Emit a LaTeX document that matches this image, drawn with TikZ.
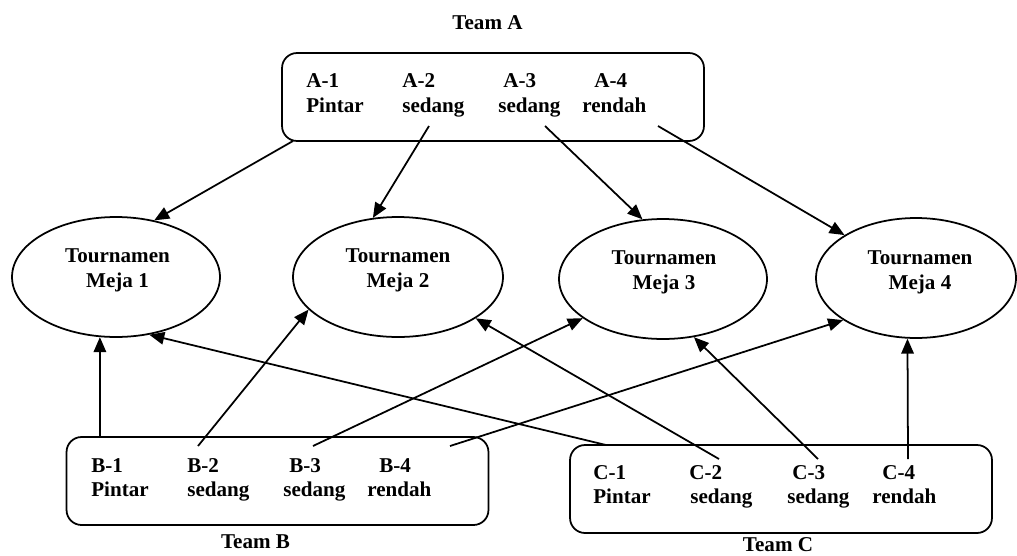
\documentclass[tikz,border=0pt]{standalone}
\usepackage{fontspec}
\setmainfont{Liberation Serif}
\usetikzlibrary{shapes.geometric,arrows.meta}

\tikzset{
  teambox/.style={draw, line width=1pt, rounded corners=0.3cm, minimum width=8.44cm, minimum height=1.76cm, inner sep=0},
  meja/.style={draw, ellipse, line width=1pt, inner sep=0, minimum height=2.4cm},
  txt/.style={font=\fontsize{12}{14}\selectfont\bfseries, inner sep=0},
  panah/.style={line width=1pt, -{Triangle[length=0.3cm,width=0.25cm]}}
}

\begin{document}
\begin{tikzpicture}[x=0.02cm,y=-0.02cm]
\useasboundingbox (0,0) rectangle (1017,555);

% team boxes
\node[teambox] (ta) at (493,97) {};
\node[teambox] (tb) at (277.5,481) {};
\node[teambox] (tc) at (781,489) {};
\node[txt, anchor=base] (la) at (487.5,29) {Team A};
\node[txt, anchor=base] (lb) at (255.5,548) {Team B};
\node[txt, anchor=base] (lc) at (778,551) {Team C};

% tables
\node[meja, minimum width=4.16cm] (m1) at (116,277) {};
\node[meja, minimum width=4.2cm] (m2) at (398,277) {};
\node[meja, minimum width=4.16cm] (m3) at (663,279) {};
\node[meja, minimum width=4cm] (m4) at (916,278) {};
\node[txt, anchor=base] (t1) at (117.5,262) {Tournamen};
\node[txt, anchor=base] (j1) at (117.5,287) {Meja 1};
\node[txt, anchor=base] (t2) at (398,262) {Tournamen};
\node[txt, anchor=base] (j2) at (398,287) {Meja 2};
\node[txt, anchor=base] (t3) at (664,264) {Tournamen};
\node[txt, anchor=base] (j3) at (664,289) {Meja 3};
\node[txt, anchor=base] (t4) at (920,264) {Tournamen};
\node[txt, anchor=base] (j4) at (920,289) {Meja 4};

% team A
\node[txt, anchor=base west] (a1) at (306,87) {A-1};
\node[txt, anchor=base west] (a2) at (402,87) {A-2};
\node[txt, anchor=base west] (a3) at (503,87) {A-3};
\node[txt, anchor=base west] (a4) at (594,87) {A-4};
\node[txt, anchor=base west] (a1k) at (306,112) {Pintar};
\node[txt, anchor=base west] (a2k) at (402,112) {sedang};
\node[txt, anchor=base west] (a3k) at (498,112) {sedang};
\node[txt, anchor=base west] (a4k) at (582,112) {rendah};

% team B
\node[txt, anchor=base west] (b1) at (91,472) {B-1};
\node[txt, anchor=base west] (b2) at (187,472) {B-2};
\node[txt, anchor=base west] (b3) at (289,472) {B-3};
\node[txt, anchor=base west] (b4) at (379,472) {B-4};
\node[txt, anchor=base west] (b1k) at (91,496) {Pintar};
\node[txt, anchor=base west] (b2k) at (187,496) {sedang};
\node[txt, anchor=base west] (b3k) at (283,496) {sedang};
\node[txt, anchor=base west] (b4k) at (367,496) {rendah};

% team C
\node[txt, anchor=base west] (c1) at (593,479) {C-1};
\node[txt, anchor=base west] (c2) at (689,479) {C-2};
\node[txt, anchor=base west] (c3) at (792,479) {C-3};
\node[txt, anchor=base west] (c4) at (882,479) {C-4};
\node[txt, anchor=base west] (c1k) at (593,503) {Pintar};
\node[txt, anchor=base west] (c2k) at (690,503) {sedang};
\node[txt, anchor=base west] (c3k) at (787,503) {sedang};
\node[txt, anchor=base west] (c4k) at (872,503) {rendah};

% arrow starts
\coordinate (a0) at (293,141);
\coordinate (a2s) at (429,126);
\coordinate (a3s) at (545,126);
\coordinate (a4s) at (658,126);
\coordinate (b1s) at (100,437);
\coordinate (b2s) at (198,446);
\coordinate (b3s) at (313,446);
\coordinate (b4s) at (450,446);
\coordinate (c1s) at (606,445);
\coordinate (c2s) at (719,459);
\coordinate (c3s) at (818,459);
\coordinate (c4s) at (908,459);

\draw[panah] (a0) -- (m1.56);
\draw[panah] (a2s) -- (m2.113);
\draw[panah] (a3s) -- (m3.109);
\draw[panah] (a4s) -- (m4.149);
\draw[panah] (b1s) -- (m1.255);
\draw[panah] (b2s) -- (m2.200);
\draw[panah] (b3s) -- (m3.206);
\draw[panah] (b4s) -- (m4.210);
\draw[panah] (c1s) -- (m1.300);
\draw[panah] (c2s) -- (m2.332);
\draw[panah] (c3s) -- (m3.298);
\draw[panah] (c4s) -- (m4.262);
\end{tikzpicture}
\end{document}
